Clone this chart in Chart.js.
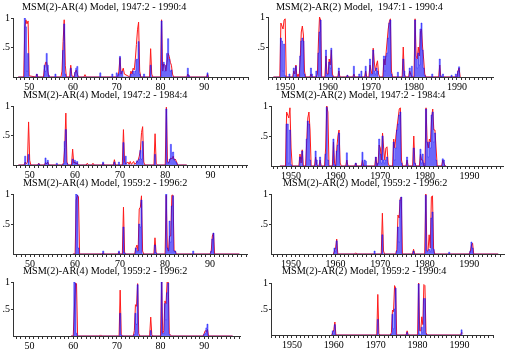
<!DOCTYPE html>
<html>
<head>
<meta charset="utf-8">
<script src="https://cdn.jsdelivr.net/npm/chart.js@4"></script>
<style>
  body { margin: 0; background: #fff; width: 512px; height: 352px; overflow: hidden; position: relative; }
  .box { position: absolute; }
  .ttl { position: absolute; font: 10.2px "Liberation Serif", serif; white-space: pre; color: #000; line-height: 1; }
</style>
</head>
<body>
<script>
// regime probabilities, [date (years after 1900), probability]
const p1Red = [[47.5,0],[48.75,0],[49,0.85],[49.25,0.97],[49.5,0.9],[49.75,0.95],[50,0.02],[51.5,0],[51.75,0.05],[52,0],[53.25,0],[53.5,0.15],[53.75,0.25],[54,0.25],[54.25,0.1],[54.5,0],[57.25,0],[57.5,0.1],[57.75,0.6],[58,0.97],[58.25,0.2],[58.5,0],[59.25,0],[59.5,0.2],[59.75,0.02],[60.25,0],[60.5,0.08],[60.75,0.12],[61,0.05],[61.25,0],[62.5,0],[62.75,0.04],[63,0],[70.25,0],[70.5,0.1],[70.75,0.33],[71,0.05],[71.5,0.15],[71.75,0.05],[73,0],[73.25,0.1],[73.5,0.05],[73.75,0.15],[74,0.12],[74.25,0.3],[74.5,0.55],[74.75,0.8],[75,0.93],[75.25,0.1],[75.5,0],[77.5,0],[77.75,0.48],[78,0.05],[78.25,0],[80,0],[80.25,0.97],[80.5,0.1],[80.75,0.22],[81,0.2],[81.25,0.1],[81.5,0.25],[81.75,0.4],[82,0.35],[82.25,0.25],[82.5,0.2],[82.75,0.05],[83,0],[86,0],[86.25,0.05],[86.5,0],[90.5,0],[90.75,0.05],[91,0]];
const p1Blue = [[47.5,0],[48.75,0],[49,1],[49.25,0.85],[49.5,0.1],[49.75,0.4],[50,0],[51.5,0],[51.75,0.05],[52,0],[53.25,0],[53.5,0.2],[53.75,0.1],[54,0.4],[54.25,0.2],[54.5,0.03],[54.75,0],[55.75,0],[56,0.05],[56.25,0],[57.5,0],[57.75,0.45],[58,0.9],[58.25,0.05],[58.5,0],[59.25,0],[59.5,0.15],[59.75,0],[60.25,0],[60.5,0.08],[60.75,0.15],[61,0.18],[61.25,0],[66,0],[66.25,0.07],[66.5,0],[68.75,0],[69,0.05],[69.25,0],[69.75,0],[70,0.07],[70.25,0.03],[70.5,0.05],[70.75,0.35],[71,0.05],[71.25,0.1],[71.5,0],[73,0],[73.25,0.05],[73.5,0],[73.75,0.1],[74,0.05],[74.25,0.1],[74.5,0.3],[74.75,0.3],[75,0.6],[75.25,0.05],[75.5,0],[76,0],[76.25,0.05],[76.5,0],[77.5,0],[77.75,0.2],[78,0],[80,0],[80.25,0.95],[80.5,0.2],[80.75,0.25],[81,0.1],[81.25,0.2],[81.5,0.4],[81.75,0.65],[82,0.3],[82.25,0.1],[82.5,0.12],[82.75,0],[86,0],[86.25,0.15],[86.5,0.03],[86.75,0],[90.5,0],[90.75,0.07],[91,0]];

const p2Red = [[47.25,0],[48.75,0],[49,0.9],[49.25,0.85],[49.5,0.8],[49.75,0.95],[50,0.97],[50.25,0],[51.75,0],[52,0.1],[52.25,0.05],[52.5,0.2],[52.75,0],[53,0.05],[53.25,0],[53.5,0.3],[53.75,0.75],[54,0.85],[54.25,0.7],[54.5,0.1],[54.75,0],[55.75,0],[56,0.05],[56.25,0],[57.25,0],[57.5,0.05],[57.75,0.6],[58,1],[58.25,0.95],[58.5,0],[59.25,0],[59.5,0.35],[59.75,0.05],[60,0.05],[60.25,0.3],[60.5,0.2],[60.75,0.45],[61,0.05],[61.25,0],[62.25,0],[62.5,0.1],[62.75,0],[64.25,0],[64.5,0.03],[64.75,0],[65.75,0],[66,0.05],[66.25,0],[68.5,0],[68.75,0.1],[69,0],[69.5,0],[69.75,0.2],[70,0.1],[70.25,0.05],[70.5,0.48],[70.75,0.25],[71,0.1],[71.25,0.2],[71.5,0.27],[71.75,0.05],[72,0],[72.75,0],[73,0.3],[73.25,0.2],[73.5,0.4],[73.75,0.6],[74,0.8],[74.25,0.92],[74.5,0.97],[74.75,0.1],[75,0],[77.25,0],[77.5,0.5],[77.75,0.05],[78,0],[78.75,0],[79,0.1],[79.25,0.05],[79.5,0],[80,0],[80.25,0.97],[80.5,0.35],[80.75,0.3],[81,0.5],[81.25,0.35],[81.5,0.75],[81.75,0.8],[82,0.5],[82.25,0.3],[82.5,0.05],[82.75,0],[85.75,0],[86,0.2],[86.25,0],[90,0],[90.25,0.1],[90.5,0.15],[90.75,0]];
const p2Blue = [[47.25,0],[48.75,0],[49,0.65],[49.25,0.6],[49.5,0.1],[49.75,0.55],[50,0.02],[50.25,0],[50.75,0],[51,0.05],[51.25,0],[51.75,0],[52,0.15],[52.25,0],[52.5,0.18],[52.75,0],[53.25,0],[53.5,0.35],[53.75,0.6],[54,0.65],[54.25,0.6],[54.5,0.05],[54.75,0],[55.75,0],[56,0.15],[56.25,0.05],[56.5,0],[57,0],[57.25,0.1],[57.5,0],[57.75,0.4],[58,0.75],[58.25,0.95],[58.5,0],[59.25,0],[59.5,0.45],[59.75,0.02],[60,0.05],[60.25,0.25],[60.5,0.15],[60.75,0.48],[61,0.02],[61.25,0],[62.25,0],[62.5,0.15],[62.75,0],[64.25,0],[64.5,0.03],[64.75,0],[65.75,0],[66,0.18],[66.25,0],[67,0],[67.25,0.05],[67.5,0],[67.75,0.1],[68,0],[68.5,0],[68.75,0.18],[69,0],[69.5,0],[69.75,0.3],[70,0.05],[70.25,0.05],[70.5,0.45],[70.75,0.1],[71,0.05],[71.25,0.15],[71.5,0.1],[71.75,0],[72.75,0],[73,0.35],[73.25,0.1],[73.5,0.35],[73.75,0.4],[74,0.65],[74.25,0.9],[74.5,0.95],[74.75,0.05],[75,0],[76,0],[76.25,0.08],[76.5,0],[77.25,0],[77.5,0.3],[77.75,0.1],[78,0],[78.75,0],[79,0.15],[79.25,0.05],[79.5,0.18],[79.75,0],[80,0],[80.25,0.95],[80.5,0.3],[80.75,0.15],[81,0.4],[81.25,0.2],[81.5,0.8],[81.75,0.9],[82,0.45],[82.25,0.15],[82.5,0.03],[82.75,0],[84,0],[84.25,0.05],[84.5,0],[85.75,0],[86,0.3],[86.25,0.02],[86.5,0],[86.75,0.05],[87,0],[88.5,0],[88.75,0.03],[89,0],[89.5,0],[89.75,0.05],[90,0],[90.25,0.1],[90.5,0.17],[90.75,0]];

const p3Red = [[47.5,0],[48.75,0],[49,0.05],[49.25,0.02],[49.5,0.05],[49.75,0.73],[50,0.08],[50.25,0],[51.75,0],[52,0.03],[52.25,0],[53.25,0],[53.5,0.04],[53.75,0.02],[54,0.05],[54.25,0],[57.25,0],[57.5,0.04],[57.75,0.3],[58,0.88],[58.25,0.05],[58.5,0],[59.25,0],[59.5,0.27],[59.75,0.03],[60,0.05],[60.25,0.02],[60.5,0.04],[60.75,0],[62.5,0],[62.75,0.03],[63,0],[63.75,0],[64,0.03],[64.25,0],[66,0],[66.25,0.03],[66.5,0],[68.5,0],[68.75,0.09],[69,0],[70.5,0],[70.75,0.6],[71,0.05],[71.25,0.02],[71.75,0.05],[72,0.01],[72.25,0.06],[72.5,0.01],[73,0.06],[73.25,0.01],[73.75,0.05],[74,0.08],[74.25,0.15],[74.5,0.25],[74.75,0.55],[75,0.65],[75.25,0.05],[75.5,0],[77.5,0],[77.75,0.53],[78,0.03],[78.25,0],[80,0],[80.25,0.98],[80.5,0.05],[80.75,0.03],[81,0.08],[81.25,0.12],[81.5,0.1],[81.75,0.15],[82,0.08],[82.25,0.1],[82.5,0.05],[82.75,0],[84.75,0]];
const p3Blue = [[47.5,0],[48.75,0],[49,0.15],[49.25,0],[49.5,0],[49.75,0.18],[50,0],[51.75,0],[52,0.02],[52.25,0],[53.25,0],[53.5,0.12],[53.75,0.03],[54,0.08],[54.25,0],[55.75,0],[56,0.03],[56.25,0],[57.25,0],[57.5,0.02],[57.75,0.4],[58,0.6],[58.25,0.03],[58.5,0],[59.25,0],[59.5,0.1],[59.75,0],[60,0.08],[60.25,0.02],[60.5,0.06],[60.75,0],[66,0],[66.25,0.05],[66.5,0],[68.5,0],[68.75,0.05],[69,0],[69.5,0],[69.75,0.05],[70,0],[70.5,0],[70.75,0.38],[71,0.03],[71.25,0.15],[71.5,0],[73.5,0],[73.75,0.07],[74,0.05],[74.25,0.1],[74.5,0.25],[74.75,0.1],[75,0.4],[75.25,0],[77.5,0],[77.75,0.18],[78,0],[80,0],[80.25,0.95],[80.5,0.03],[80.75,0.05],[81,0.1],[81.25,0.35],[81.5,0.2],[81.75,0.22],[82,0.1],[82.25,0.06],[82.5,0.04],[82.75,0],[84.75,0]];

const p4Red = [[47.5,0],[48.75,0],[49,0.9],[49.25,0.85],[49.5,0.8],[49.75,0.97],[50,0.3],[50.25,0],[51.75,0],[52,0.2],[52.25,0.05],[52.5,0.27],[52.75,0],[53.25,0],[53.5,0.4],[53.75,0.8],[54,0.9],[54.25,0.6],[54.5,0],[55.25,0],[55.5,0.15],[55.75,0.02],[56,0],[56.25,0],[56.5,0.1],[56.75,0],[57.5,0],[57.75,0.3],[58,1],[58.25,0.9],[58.5,0],[59.25,0],[59.5,0.4],[59.75,0.05],[60,0],[60.25,0.3],[60.5,0.5],[60.75,0.6],[61,0.05],[61.25,0],[62.25,0],[62.5,0.1],[62.75,0],[64.25,0],[64.5,0.05],[64.75,0],[65.75,0],[66,0.1],[66.25,0],[68.75,0],[69,0.15],[69.25,0],[69.5,0.05],[69.75,0.35],[70,0.3],[70.25,0.1],[70.5,0.55],[70.75,0.3],[71,0.1],[71.25,0.3],[71.5,0.32],[71.75,0.05],[72,0],[72.75,0],[73,0.45],[73.25,0.3],[73.5,0.5],[73.75,0.65],[74,0.8],[74.25,0.95],[74.5,0.97],[74.75,0.1],[75,0],[75.75,0],[76,0.1],[76.25,0],[77.25,0],[77.5,0.5],[77.75,0.05],[78,0],[78.75,0],[79,0.2],[79.25,0.1],[79.5,0.1],[79.75,0],[80,0],[80.25,0.97],[80.5,0.4],[80.75,0.3],[81,0.45],[81.25,0.4],[81.5,0.8],[81.75,0.95],[82,0.6],[82.25,0.6],[82.5,0.3],[82.75,0],[83.75,0],[84,0.1],[84.25,0.05],[84.5,0],[84.75,0]];
const p4Blue = [[47.5,0],[48.75,0],[49,0.7],[49.25,0.7],[49.5,0.05],[49.75,0.6],[50,0.02],[50.25,0],[51.75,0],[52,0.15],[52.25,0],[52.5,0.25],[52.75,0],[53.25,0],[53.5,0.45],[53.75,0.75],[54,0.7],[54.25,0.1],[54.5,0],[55.25,0],[55.5,0.25],[55.75,0.1],[56,0],[56.25,0],[56.5,0.15],[56.75,0],[57.5,0],[57.75,0.2],[58,0.98],[58.25,0.1],[58.5,0],[59.25,0],[59.5,0.45],[59.75,0.02],[60,0],[60.25,0.25],[60.5,0.35],[60.75,0.55],[61,0],[62.25,0],[62.5,0.22],[62.75,0],[64.25,0],[64.5,0.05],[64.75,0],[65.75,0],[66,0.23],[66.25,0],[66.5,0.1],[66.75,0.08],[67,0],[68.75,0],[69,0.15],[69.25,0],[69.5,0.05],[69.75,0.45],[70,0.2],[70.25,0.05],[70.5,0.5],[70.75,0.1],[71,0.05],[71.25,0.1],[71.5,0.15],[71.75,0],[72.75,0],[73,0.4],[73.25,0.1],[73.5,0.3],[73.75,0.6],[74,0.7],[74.25,0.85],[74.5,0.9],[74.75,0.05],[75,0],[75.75,0],[76,0.15],[76.25,0],[77.25,0],[77.5,0.3],[77.75,0.05],[78,0],[78.75,0],[79,0.28],[79.25,0.05],[79.5,0.2],[79.75,0.05],[80,0],[80.25,0.95],[80.5,0.4],[80.75,0.15],[81,0.4],[81.25,0.3],[81.5,0.85],[81.75,0.9],[82,0.4],[82.25,0.55],[82.5,0.1],[82.75,0],[83.75,0],[84,0.12],[84.25,0.1],[84.5,0],[84.75,0]];

const p5Red = [[59.5,0],[60,0],[60.25,0.9],[60.5,0.98],[60.75,0.95],[61,0],[66,0],[66.25,0.02],[66.5,0],[69.5,0],[69.75,0.03],[70,0],[70.5,0],[70.75,0.78],[71,0.02],[71.25,0],[73.25,0],[73.5,0.1],[73.75,0.15],[74,0.05],[74.25,0.75],[74.5,0.78],[74.75,0.97],[75,0.05],[75.25,0],[77.5,0],[77.75,0.27],[78,0.02],[78.25,0],[80,0],[80.25,0.98],[80.5,0.1],[80.75,0.05],[81,0.3],[81.25,0.3],[81.5,0.98],[81.75,0.98],[82,0.05],[82.25,0.05],[82.5,0],[90,0],[90.25,0.05],[90.5,0.3],[90.75,0.35],[91,0],[96.5,0]];
const p5Blue = [[59.5,0],[60,0],[60.25,1],[60.5,0.98],[60.75,0.1],[61,0],[66,0],[66.25,0.05],[66.5,0],[69.5,0],[69.75,0.05],[70,0],[70.5,0],[70.75,0.45],[71,0.02],[71.25,0],[73.25,0],[73.5,0.1],[73.75,0.05],[74,0.05],[74.25,0.5],[74.5,0.45],[74.75,0.9],[75,0],[77.5,0],[77.75,0.15],[78,0.02],[78.25,0],[80,0],[80.25,1],[80.5,0.1],[80.75,0.05],[81,0.55],[81.25,0.2],[81.5,0.8],[81.75,0.97],[82,0.05],[82.25,0.05],[82.5,0],[86,0],[86.25,0.05],[86.5,0],[90,0],[90.25,0.05],[90.5,0.25],[90.75,0.35],[91,0],[96.5,0]];

const p6Red = [[59.5,0],[59.75,0.05],[60,0.1],[60.25,0.25],[60.5,0],[64.25,0],[64.5,0.02],[64.75,0],[70.25,0],[70.5,0.68],[70.75,0.05],[71,0],[73.5,0],[73.75,0.08],[74,0.65],[74.25,0.6],[74.5,0.92],[74.75,0.95],[75,0],[77.25,0],[77.5,0.08],[77.75,0],[80,0],[80.25,1],[80.5,0.05],[80.75,0.05],[81,0.32],[81.25,0.1],[81.5,0.95],[81.75,0.97],[82,0.08],[82.25,0],[90,0],[90.25,0.05],[90.5,0.15],[90.75,0.18],[91,0],[96.5,0]];
const p6Blue = [[59.5,0],[59.75,0.1],[60,0.05],[60.25,0.22],[60.5,0],[68.5,0],[68.75,0.05],[69,0],[70.25,0],[70.5,0.32],[70.75,0],[73.5,0],[73.75,0.05],[74,0.45],[74.25,0.2],[74.5,0.9],[74.75,0.95],[75,0],[77.25,0],[77.5,0.05],[77.75,0],[80,0],[80.25,0.98],[80.5,0.05],[80.75,0],[81,0.08],[81.25,0.05],[81.5,0.6],[81.75,0.7],[82,0.08],[82.25,0],[85.25,0],[85.5,0.03],[85.75,0],[90,0],[90.25,0.05],[90.5,0.2],[90.75,0.1],[91,0],[96.5,0]];

const p7Red = [[59.5,0],[60,0],[60.25,0.5],[60.5,0.98],[60.75,0.97],[61,0],[66,0],[66.25,0.02],[66.5,0],[70.5,0],[70.75,0.85],[71,0.03],[71.25,0],[73.75,0],[74,0.1],[74.25,0.58],[74.5,0.55],[74.75,0.97],[75,0.05],[75.25,0],[77.5,0],[77.75,0.35],[78,0.02],[78.25,0],[80,0],[80.25,1],[80.5,0.05],[80.75,0.1],[81,0.65],[81.25,0.6],[81.5,1],[81.75,1],[82,0.05],[82.25,0.02],[82.5,0],[89.75,0],[90,0.05],[90.25,0.1],[90.5,0.08],[90.75,0.12],[91,0],[96.5,0]];
const p7Blue = [[59.5,0],[60,0],[60.25,1],[60.5,0.97],[60.75,0.05],[61,0],[70.5,0],[70.75,0.42],[71,0.02],[71.25,0],[73.75,0],[74,0.03],[74.25,0.42],[74.5,0.22],[74.75,0.95],[75,0],[77.5,0],[77.75,0.1],[78,0],[80,0],[80.25,1],[80.5,0.05],[80.75,0.05],[81,0.6],[81.25,0.3],[81.5,0.8],[81.75,0.98],[82,0.03],[82.25,0],[89.75,0],[90,0.03],[90.25,0.05],[90.5,0.15],[90.75,0.22],[91,0],[96.5,0]];

const p8Red = [[59.5,0],[59.75,0.05],[60,0.1],[60.25,0.25],[60.5,0],[70.25,0],[70.5,0.78],[70.75,0.03],[71,0],[73.5,0],[73.75,0.05],[74,0.48],[74.25,0.45],[74.5,0.95],[74.75,0.9],[75,0],[77.25,0],[77.5,0.08],[77.75,0],[80,0],[80.25,1],[80.5,0.08],[80.75,0.08],[81,0.35],[81.25,0.2],[81.5,0.97],[81.75,0.95],[82,0.05],[82.25,0],[90.25,0],[90.5,0.05],[90.75,0.03]];
const p8Blue = [[59.5,0],[59.75,0.08],[60,0.02],[60.25,0.2],[60.5,0],[70.25,0],[70.5,0.3],[70.75,0],[73.5,0],[73.75,0.02],[74,0.4],[74.25,0.12],[74.5,0.5],[74.75,0.9],[75,0],[77.25,0],[77.5,0.05],[77.75,0],[80,0],[80.25,0.98],[80.5,0.02],[80.75,0],[81,0.15],[81.25,0.05],[81.5,0.7],[81.75,0.7],[82,0.02],[82.25,0],[90.25,0],[90.5,0.1],[90.75,0.05]];

const titles = [
  'MSM(2)-AR(4) Model, 1947:2 - 1990:4', 'MSM(2)-AR(2) Model,  1947:1 - 1990:4',
  'MSM(2)-AR(4) Model, 1947:2 - 1984:4', 'MSM(2)-AR(2) Model, 1947:2 - 1984:4',
  'MSM(2)-AR(4) Model, 1959:2 - 1996:2', 'MSM(2)-AR(2) Model, 1959:2 - 1996:2',
  'MSM(2)-AR(4) Model, 1959:2 - 1996:2', 'MSM(2)-AR(2) Model, 1959:2 - 1990:4'
];
const labelYears = [50, 60, 70, 80, 90];
const yTicks = [0.5, 1];
const yTickLabels = ['.5', '1'];

const series = [
  [p1Red, p1Blue], [p2Red, p2Blue], [p3Red, p3Blue], [p4Red, p4Blue],
  [p5Red, p5Blue], [p6Red, p6Blue], [p7Red, p7Blue], [p8Red, p8Blue]
];

// frame of each panel: axis x, axis end, plot top, baseline, x range, title spot
const frames = [
  { ax: 13, end: 248, top: 15, base: 77, min: 46.3, max: 100, tx: 22, ty: 2, full: false },
  { ax: 268, end: 493, top: 14, base: 77, min: 46, max: 98.4, tx: 276, ty: 2, full: true },
  { ax: 13, end: 247, top: 103, base: 165, min: 46.3, max: 98.1, tx: 23, ty: 90, full: false },
  { ax: 271, end: 503, top: 103, base: 166, min: 45.5, max: 97.5, tx: 281, ty: 90, full: true },
  { ax: 13, end: 247, top: 191, base: 254, min: 46.2, max: 98.2, tx: 23, ty: 178, full: false },
  { ax: 271, end: 504, top: 191, base: 254, min: 45.5, max: 97.8, tx: 283, ty: 178, full: true },
  { ax: 13, end: 240, top: 279, base: 336, min: 46.2, max: 98.2, tx: 23, ty: 266, full: false },
  { ax: 271, end: 493, top: 280, base: 335, min: 45, max: 98, tx: 282, ty: 266, full: true }
];

const YW = 14, PADT = 4, PADR = 2, XH = 16;
const serif = { family: 'Liberation Serif', size: 10 };

frames.forEach((f, i) => {
  const [red, blue] = series[i];
  const w = Math.round(f.end - f.ax + YW + PADR);
  const h = Math.round(f.base - f.top + PADT + XH);

  const box = document.createElement('div');
  box.className = 'box';
  box.style.left = (f.ax - YW) + 'px';
  box.style.top = (f.top - PADT) + 'px';
  const cv = document.createElement('canvas');
  cv.width = w; cv.height = h;
  cv.style.width = w + 'px'; cv.style.height = h + 'px';
  box.appendChild(cv);
  document.body.appendChild(box);

  const t = document.createElement('div');
  t.className = 'ttl';
  t.style.left = f.tx + 'px';
  t.style.top = f.ty + 'px';
  t.textContent = titles[i];
  document.body.appendChild(t);

  const years = [];
  for (let y = Math.ceil(f.min); y <= Math.floor(f.max); y++) years.push(y);

  new Chart(cv, {
    type: 'line',
    data: {
      datasets: [
        {
          data: blue.map(([x, y]) => ({ x, y })),
          borderColor: 'rgba(0,0,255,0.7)',
          backgroundColor: 'rgba(20,20,255,0.62)',
          fill: 'origin',
          stepped: 'middle',
          borderWidth: 0.6,
          pointRadius: 0,
          order: 0
        },
        {
          data: red.map(([x, y]) => ({ x, y })),
          borderColor: '#ff1a1a',
          backgroundColor: 'rgba(255,90,90,0.08)',
          borderWidth: 1,
          pointRadius: 0,
          fill: 'origin',
          order: 1
        }
      ]
    },
    options: {
      responsive: false,
      animation: false,
      events: [],
      layout: { padding: { top: PADT, right: PADR, left: 0, bottom: 0 } },
      plugins: { legend: { display: false }, tooltip: { enabled: false } },
      scales: {
        x: {
          type: 'linear',
          min: f.min,
          max: f.max,
          border: { color: '#333', width: 1 },
          grid: { drawOnChartArea: false, tickLength: 3, color: '#333' },
          ticks: {
            autoSkip: false, maxRotation: 0, padding: 1, color: '#000', font: serif,
            callback: v => labelYears.includes(v) ? String(f.full ? 1900 + v : v) : ''
          },
          afterBuildTicks: s => { s.ticks = years.map(v => ({ value: v })); },
          afterFit: s => { s.height = XH; }
        },
        y: {
          min: 0,
          max: 1,
          border: { color: '#333', width: 1 },
          grid: { drawOnChartArea: false, tickLength: 2, color: '#333' },
          ticks: {
            padding: 1, color: '#000', font: serif,
            callback: v => yTickLabels[yTicks.indexOf(v)] ?? ''
          },
          afterBuildTicks: s => { s.ticks = yTicks.map(v => ({ value: v })); },
          afterFit: s => { s.width = YW; }
        }
      }
    }
  });
});
</script>
</body>
</html>
